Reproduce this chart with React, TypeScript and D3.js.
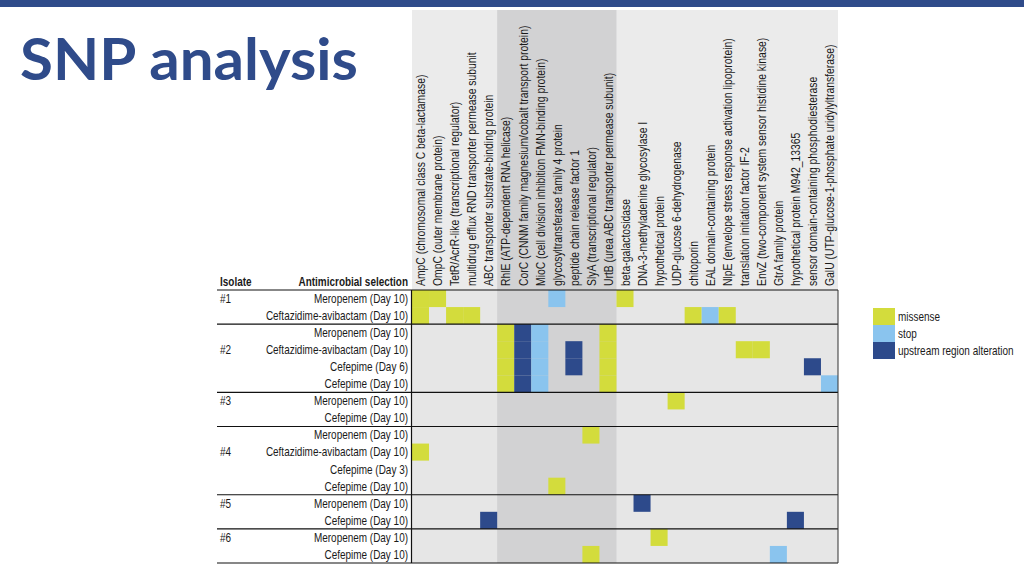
import React from "react";
import * as d3 from "d3";

const columns = [
  "AmpC (chromosomal class C beta-lactamase)",
  "OmpC (outer membrane protein)",
  "TetR/AcrR-like (transcriptional regulator)",
  "multidrug efflux RND transporter permease subunit",
  "ABC transporter substrate-binding protein",
  "RhlE (ATP-dependent RNA helicase)",
  "CorC (CNNM family magnesium/cobalt transport protein)",
  "MioC (cell division inhibition FMN-binding protein)",
  "glycosyltransferase family 4 protein",
  "peptide chain release factor 1",
  "SlyA (transcriptional regulator)",
  "UrtB (urea ABC transporter permease subunit)",
  "beta-galactosidase",
  "DNA-3-methyladenine glycosylase I",
  "hypothetical protein",
  "UDP-glucose 6-dehydrogenase",
  "chitoporin",
  "EAL domain-containing protein",
  "NlpE (envelope stress response activation lipoprotein)",
  "translation initiation factor IF-2",
  "EnvZ (two-component system sensor histidine kinase)",
  "GtrA family protein",
  "hypothetical protein M942_13365",
  "sensor domain-containing phosphodiesterase",
  "GalU (UTP-glucose-1-phosphate uridylyltransferase)",
];

const shadedColumns = columns.slice(5, 12);

const rowIsolates = ["#1", "#1", "#2", "#2", "#2", "#2", "#3", "#3", "#4", "#4", "#4", "#4", "#5", "#5", "#6", "#6"];
const rowSelections = [
  "Meropenem (Day 10)",
  "Ceftazidime-avibactam (Day 10)",
  "Meropenem (Day 10)",
  "Ceftazidime-avibactam (Day 10)",
  "Cefepime (Day 6)",
  "Cefepime (Day 10)",
  "Meropenem (Day 10)",
  "Cefepime (Day 10)",
  "Meropenem (Day 10)",
  "Ceftazidime-avibactam (Day 10)",
  "Cefepime (Day 3)",
  "Cefepime (Day 10)",
  "Meropenem (Day 10)",
  "Cefepime (Day 10)",
  "Meropenem (Day 10)",
  "Cefepime (Day 10)",
];
// row on which the isolate label is written
const isolateLabelRows = [0, 3, 6, 9, 12, 14];

const mutationTypes = ["missense", "stop", "upstream region alteration"];
const mutationColors = ["#d3dc3c", "#8ac4ee", "#2d4a8b"];

// [row index, column index, mutation type index]
const mutations: [number, number, number][] = [
  [0, 0, 0], [0, 1, 0], [0, 8, 1], [0, 12, 0],
  [1, 0, 0], [1, 2, 0], [1, 3, 0], [1, 16, 0], [1, 17, 1], [1, 18, 0],
  [2, 5, 0], [3, 5, 0], [4, 5, 0], [5, 5, 0],
  [2, 6, 2], [3, 6, 2], [4, 6, 2], [5, 6, 2],
  [2, 7, 1], [3, 7, 1], [4, 7, 1], [5, 7, 1],
  [3, 9, 2], [4, 9, 2],
  [2, 11, 0], [3, 11, 0], [4, 11, 0], [5, 11, 0],
  [3, 19, 0], [3, 20, 0], [4, 23, 2], [5, 24, 1],
  [6, 15, 0],
  [8, 10, 0], [9, 0, 0], [11, 8, 0],
  [12, 13, 2], [13, 4, 2], [13, 22, 2],
  [14, 14, 0], [15, 10, 0], [15, 21, 1],
];

const W = 1024;
const H = 576;
const FONT = "'Liberation Sans', Arial, sans-serif";
const ROW_SX = 0.83;
const COL_SX = 0.865;

export default function App() {
  const rowIds = rowSelections.map((_, i) => String(i));
  const x = d3.scaleBand<string>().domain(columns).range([412, 838]);
  const y = d3.scaleBand<string>().domain(rowIds).range([290, 563]);
  const color = d3.scaleOrdinal<string, string>().domain(mutationTypes).range(mutationColors);
  const bw = x.bandwidth();
  const bh = y.bandwidth();
  const headerTop = 10;
  const x0 = x(columns[0])!;
  const x1 = x(columns[columns.length - 1])! + bw;
  const yTop = y("0")!;
  const yBot = y(String(rowIds.length - 1))! + bh;

  const boundaries: number[] = [];
  rowIsolates.forEach((iso, i) => {
    if (i > 0 && iso !== rowIsolates[i - 1]) boundaries.push(y(String(i))!);
  });

  const legendY = d3.scaleBand<string>().domain(mutationTypes).range([308, 359]);

  const label = (key: string | number, tx: number, ty: number, txt: string, anchor: string, bold = false, sx = ROW_SX) => (
    <g key={key} transform={`translate(${tx},${ty}) scale(${sx},1)`}>
      <text x={0} y={0} dominantBaseline="central" textAnchor={anchor} fontFamily={FONT} fontWeight={bold ? 700 : 400} fontSize={12} fill="#1a1a1a">
        {txt}
      </text>
    </g>
  );

  return (
    <svg width={W} height={H} style={{ position: "absolute", left: 0, top: 0, background: "#fff" }}>
      <rect x={0} y={0} width={W} height={7} fill="#2f4b8a" />
      <text x={20} y={80} fontFamily="Lato, 'Open Sans', sans-serif" fontWeight={700} fontSize={58} fill="#2f4b8a" textLength={338} lengthAdjust="spacingAndGlyphs">
        SNP analysis
      </text>

      <rect x={x0} y={headerTop} width={x1 - x0} height={yTop - headerTop} fill="#ebebeb" />
      <rect x={x0} y={yTop} width={x1 - x0} height={yBot - yTop} fill="#e6e6e6" />
      <rect
        x={x(shadedColumns[0])!}
        y={headerTop}
        width={x(shadedColumns[shadedColumns.length - 1])! + bw - x(shadedColumns[0])!}
        height={yBot - headerTop}
        fill="#d2d2d3"
      />

      {mutations.map(([r, c, t], i) => (
        <rect key={i} x={x(columns[c])!} y={y(String(r))!} width={bw} height={bh} fill={color(mutationTypes[t])} />
      ))}

      {columns.map((c) => (
        <g key={c} transform={`translate(${x(c)! + bw / 2 + 0.5},${yTop - 4}) rotate(-90) scale(${COL_SX},1)`}>
          <text x={0} y={0} dominantBaseline="central" fontFamily={FONT} fontSize={12} fill="#1a1a1a">
            {c}
          </text>
        </g>
      ))}

      {label("h1", 220, yTop - 8, "Isolate", "start", true)}
      {label("h2", 408, yTop - 8, "Antimicrobial selection", "end", true)}

      {rowSelections.map((s, i) => label("r" + i, 408, y(String(i))! + bh / 2, s, "end"))}
      {isolateLabelRows.map((r) => label("i" + r, 220, y(String(r))! + bh / 2, rowIsolates[r], "start"))}

      <line x1={217} x2={x1} y1={yTop} y2={yTop} stroke="#111" strokeWidth={1.2} />
      {boundaries.map((b) => (
        <line key={b} x1={217} x2={x1} y1={b} y2={b} stroke="#111" strokeWidth={1.2} />
      ))}
      <line x1={217} x2={x1} y1={yBot} y2={yBot} stroke="#111" strokeWidth={1.2} />
      <line x1={x0 - 0.5} x2={x0 - 0.5} y1={yTop} y2={yBot} stroke="#111" strokeWidth={1.2} />
      <line x1={x1} x2={x1} y1={yTop} y2={yBot} stroke="#333" strokeWidth={1} />

      {mutationTypes.map((t) => (
        <g key={t}>
          <rect x={873} y={legendY(t)!} width={22} height={legendY.bandwidth()} fill={color(t)} />
          {label("l" + t, 898, legendY(t)! + legendY.bandwidth() / 2, t, "start")}
        </g>
      ))}
    </svg>
  );
}
